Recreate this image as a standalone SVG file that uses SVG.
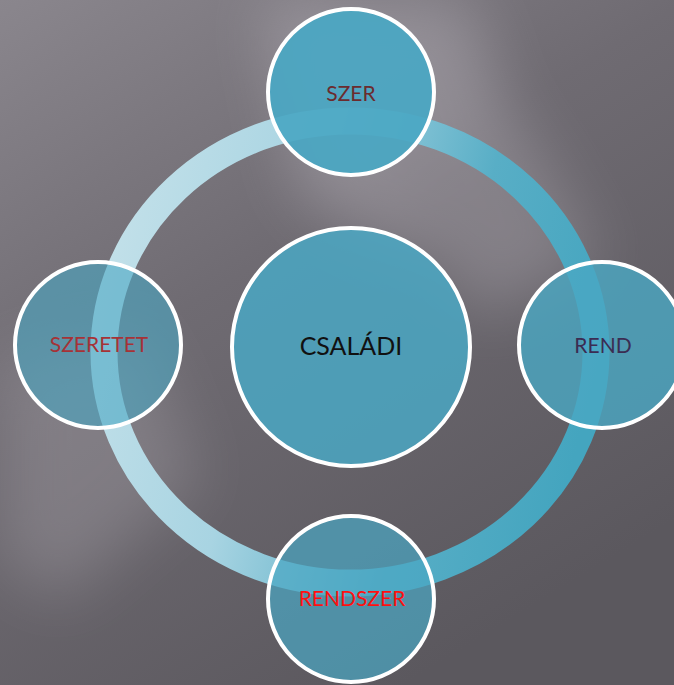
<svg xmlns="http://www.w3.org/2000/svg" width="674" height="685" viewBox="0 0 674 685">
<defs>
<linearGradient id="bg" x1="0" y1="0" x2="0.6" y2="1">
<stop offset="0" stop-color="#8a868d"/>
<stop offset="0.45" stop-color="#6f6b72"/>
<stop offset="1" stop-color="#5b585e"/>
</linearGradient>
<linearGradient id="ringg" x1="0" y1="0.3" x2="1" y2="0.55">
<stop offset="0" stop-color="#c2e0e9"/>
<stop offset="0.35" stop-color="#a8d4e2"/>
<stop offset="0.7" stop-color="#58aec6"/>
<stop offset="1" stop-color="#44a5bf"/>
</linearGradient>
<filter id="blur" x="-50%" y="-50%" width="200%" height="200%"><feGaussianBlur stdDeviation="30"/></filter>
<style>
.node{fill:#4aa7c3;stroke:#ffffff;stroke-width:4}
.lbl{font-family:Lato,"Open Sans","Liberation Sans",sans-serif;text-anchor:middle}
</style>
</defs>
<rect width="674" height="685" fill="url(#bg)"/>
<g filter="url(#blur)" opacity="0.35">
<polygon points="260,0 470,0 520,160 420,260 300,200" fill="#c9c4cc"/>
<polygon points="0,360 140,330 200,480 60,600 0,560" fill="#a9a4ab"/>
<polygon points="380,180 520,120 600,260 480,320" fill="#b5b0b8"/>
</g>
<g id="connectors">
<ellipse cx="350" cy="352" rx="246" ry="231" fill="none" stroke="url(#ringg)" stroke-width="27"/>
</g>
<g id="node-csaladi">
<circle class="node" cx="351" cy="347" r="119" fill-opacity="0.85"/>
<text class="lbl" x="351" y="355" font-size="25" fill="#111111">CSALÁDI</text>
</g>
<g id="node-szer">
<circle class="node" cx="351" cy="92" r="83" fill-opacity="0.92"/>
<text class="lbl" x="351" y="101" font-size="21" fill="#6b2b2e">SZER</text>
</g>
<g id="node-rend">
<circle class="node" cx="602" cy="345" r="83" fill-opacity="0.8"/>
<text class="lbl" x="603" y="353" font-size="21" fill="#3b2c52">REND</text>
</g>
<g id="node-rendszer">
<circle class="node" cx="351" cy="599" r="83" fill-opacity="0.7"/>
<text class="lbl" x="352" y="606" font-size="21" fill="#ff1010">RENDSZER</text>
</g>
<g id="node-szeretet">
<circle class="node" cx="98" cy="345" r="83" fill-opacity="0.6"/>
<text class="lbl" x="99" y="352" font-size="21" fill="#a63236">SZERETET</text>
</g>
</svg>
